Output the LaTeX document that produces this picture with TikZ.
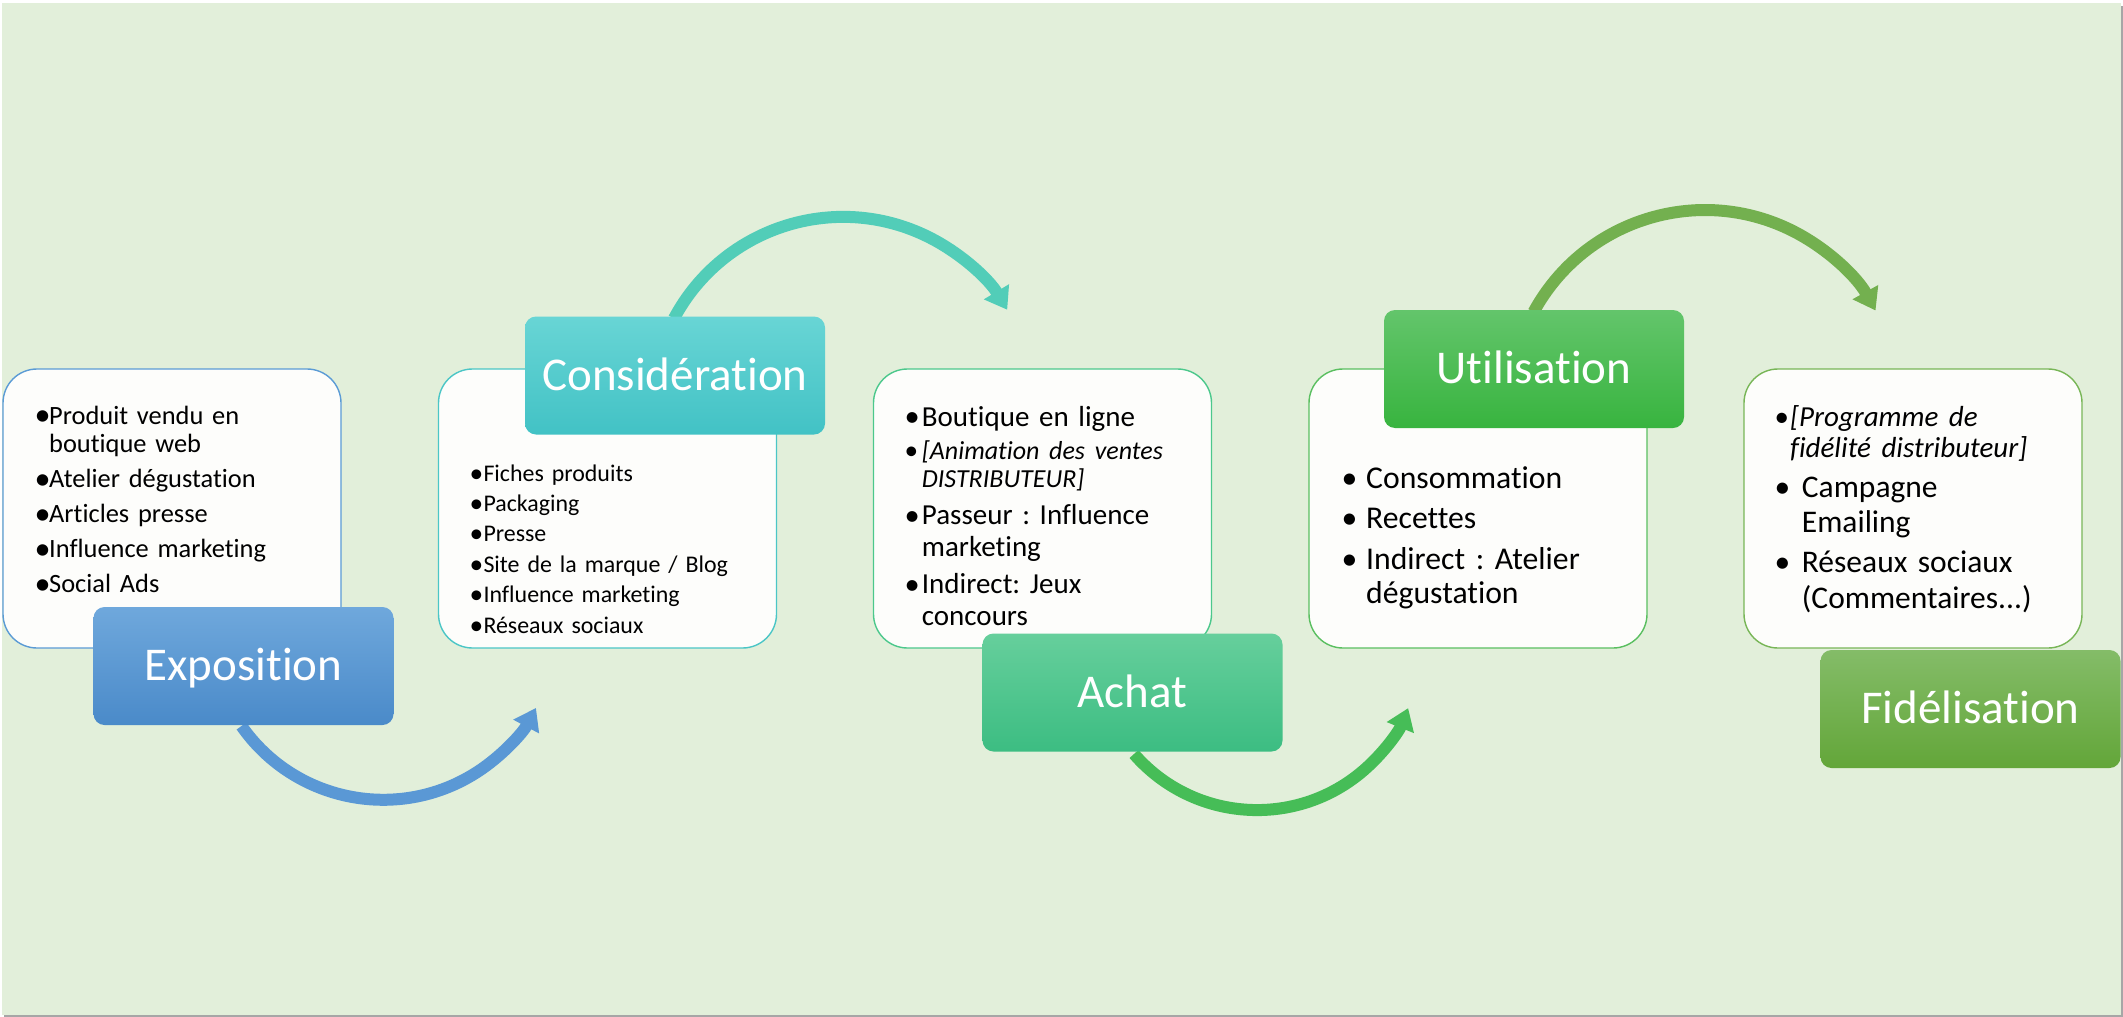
\documentclass[tikz,border=0pt]{standalone}
\usepackage{fontspec}
\setmainfont{Carlito}[Ligatures=NoCommon]
\usetikzlibrary{arrows.meta}
\frenchspacing

\definecolor{bg}{HTML}{E2EFDA}
\definecolor{shadowgray}{HTML}{A6A6A6}
\definecolor{paper}{HTML}{FDFDFB}
% stage colours: frame, gradient top, gradient bottom, arrow
\definecolor{expoline}{HTML}{5B9BD5}\definecolor{expotop}{HTML}{6FA8DC}\definecolor{expobot}{HTML}{4A8AC9}\definecolor{expoarrow}{HTML}{5A98D5}
\definecolor{consline}{HTML}{4BC6C6}\definecolor{constop}{HTML}{68D5D5}\definecolor{consbot}{HTML}{42C2C5}\definecolor{consarrow}{HTML}{52CDB8}
\definecolor{achline}{HTML}{4CC88C}\definecolor{achtop}{HTML}{66CF9C}\definecolor{achbot}{HTML}{3CBD82}\definecolor{acharrow}{HTML}{46BD57}
\definecolor{utiline}{HTML}{5ABF60}\definecolor{utitop}{HTML}{63C56B}\definecolor{utibot}{HTML}{38B43F}\definecolor{utiarrow}{HTML}{73B04F}
\definecolor{fidline}{HTML}{78B657}\definecolor{fidtop}{HTML}{84BC68}\definecolor{fidbot}{HTML}{63A639}

% bullet glyph, enlarged by \bscale and lowered to stay centred on the x-height
\newcommand\bscale{1}
\newcommand\bdrop{0em}
\newcommand\bmark{\hspace*{-1.5pt}\raisebox{\bdrop}{\scalebox{\bscale}{•}}}
% bullet item with hanging indent: #1 = indent, #2 = text
\newcommand\bitem[2]{\hangindent=#1\hangafter=1\makebox[#1][l]{\bmark}#2\par}

\begin{document}
\begin{tikzpicture}[x=1pt,y=-1pt,
  wbox/.style={draw=#1, line width=1.4pt, fill=paper, rounded corners=34pt,
    inner sep=0pt, minimum width=338pt, minimum height=279pt},
  cbox/.style 2 args={top color=#1, bottom color=#2, draw=none,
    rounded corners=11pt, inner sep=0pt, minimum width=300pt, minimum height=118pt,
    text=white, font=\fontsize{47pt}{56pt}\selectfont,
    text height=29.7pt, text depth=0pt},
  blist/.style={anchor=base west, inner sep=0pt, text width=340pt, align=left,
    text=black},
  flow/.style={draw=#1, line width=12pt,
    -{Triangle[length=21pt,width=28pt]}},
]
\useasboundingbox (0,0) rectangle (2123,1017);
% page with its drop shadow
\fill[white] (0,0) rectangle (2123,1017);
\fill[shadowgray] (4,6) rectangle (2123,1017);
\fill[bg] (2,3) rectangle (2121,1015);

% content cards
\node[wbox=expoline] (expocard) at (172,508.5) {};
\node[wbox=consline] (conscard) at (607.5,508.5) {};
\node[wbox=achline]  (achcard)  at (1042.5,508.5) {};
\node[wbox=utiline]  (uticard)  at (1478,508.5) {};
\node[wbox=fidline]  (fidcard)  at (1913,508.5) {};

% centres of the stage boxes
\path (243.5,666) coordinate (expoc) (675,375.5) coordinate (consc)
      (1132.5,692.5) coordinate (achc) (1534,369) coordinate (utic);

% curved arrows between the stages, drawn under the stage boxes
\draw[flow=expoarrow] ([shift={(-2,60)}]expoc) arc[start angle=145, end angle=28, radius=173];
\draw[flow=consarrow] ([shift={(-1,-57)}]consc) arc[start angle=208, end angle=329, radius=191.5];
\draw[flow=acharrow]  ([shift={(1.5,61.5)}]achc) arc[start angle=139, end angle=22, radius=163];
\draw[flow=utiarrow]  ([shift={(-0.4,-57)}]utic) arc[start angle=208.5, end angle=331, radius=195];

% stage boxes
\node[cbox={expotop}{expobot}] (expo) at (expoc) {Exposition};
\node[cbox={constop}{consbot}] (cons) at (consc) {Considération};
\node[cbox={achtop}{achbot}]   (ach)  at (achc) {Achat};
\node[cbox={utitop}{utibot}]   (uti)  at (utic) {Utilisation};
\node[cbox={fidtop}{fidbot}]   (fid)  at (1970.5,709) {Fidélisation};

% card contents
\node[blist, font=\fontsize{26.4pt}{28.5pt}\selectfont] (expotext) at (36,424) {%
  \setlength{\parskip}{6.5pt}\renewcommand\bscale{1.22}\renewcommand\bdrop{-0.07em}%
  \bitem{13pt}{Produit vendu en\newline boutique web}%
  \bitem{13pt}{Atelier dégustation}%
  \bitem{13pt}{Articles presse}%
  \bitem{13pt}{Influence marketing}%
  \bitem{13pt}{Social Ads}};

\node[blist, font=\fontsize{23.9pt}{30.4pt}\selectfont] (constext) at (471,481) {%
  \setlength{\parskip}{0pt}\renewcommand\bscale{1.15}\renewcommand\bdrop{-0.05em}%
  \bitem{12.3pt}{Fiches produits}%
  \bitem{12.3pt}{Packaging}%
  \bitem{12.3pt}{Presse}%
  \bitem{12.3pt}{Site de la marque / Blog}%
  \bitem{12.3pt}{Influence marketing}%
  \bitem{12.3pt}{Réseaux sociaux}};

\node[blist, font=\fontsize{29pt}{32pt}\selectfont] (achtext) at (906,426) {%
  \setlength{\parskip}{5pt}\renewcommand\bscale{1.05}\renewcommand\bdrop{-0.02em}%
  \bitem{15.7pt}{Boutique en ligne}%
  {\fontsize{26pt}{28.3pt}\selectfont\bitem{15.7pt}{\itshape [Animation des ventes\newline DISTRIBUTEUR]}}%
  \bitem{15.7pt}{Passeur : Influence\newline marketing}%
  \bitem{15.7pt}{Indirect: Jeux\newline concours}};

\node[blist, font=\fontsize{31.7pt}{34pt}\selectfont] (utitext) at (1343,488) {%
  \setlength{\parskip}{6.5pt}%
  \bitem{23pt}{Consommation}%
  \bitem{23pt}{Recettes}%
  \bitem{23pt}{Indirect : Atelier\newline dégustation}};

\node[blist, font=\fontsize{31.5pt}{35.5pt}\selectfont] (fidtext) at (1776,426) {%
  \setlength{\parskip}{4.5pt}%
  {\fontsize{29pt}{31pt}\selectfont\bitem{14pt}{\itshape [Programme de\newline fidélité distributeur]}}%
  \bitem{25.7pt}{Campagne\newline Emailing}%
  \bitem{25.7pt}{Réseaux sociaux\newline (Commentaires...)}};
\end{tikzpicture}
\end{document}
